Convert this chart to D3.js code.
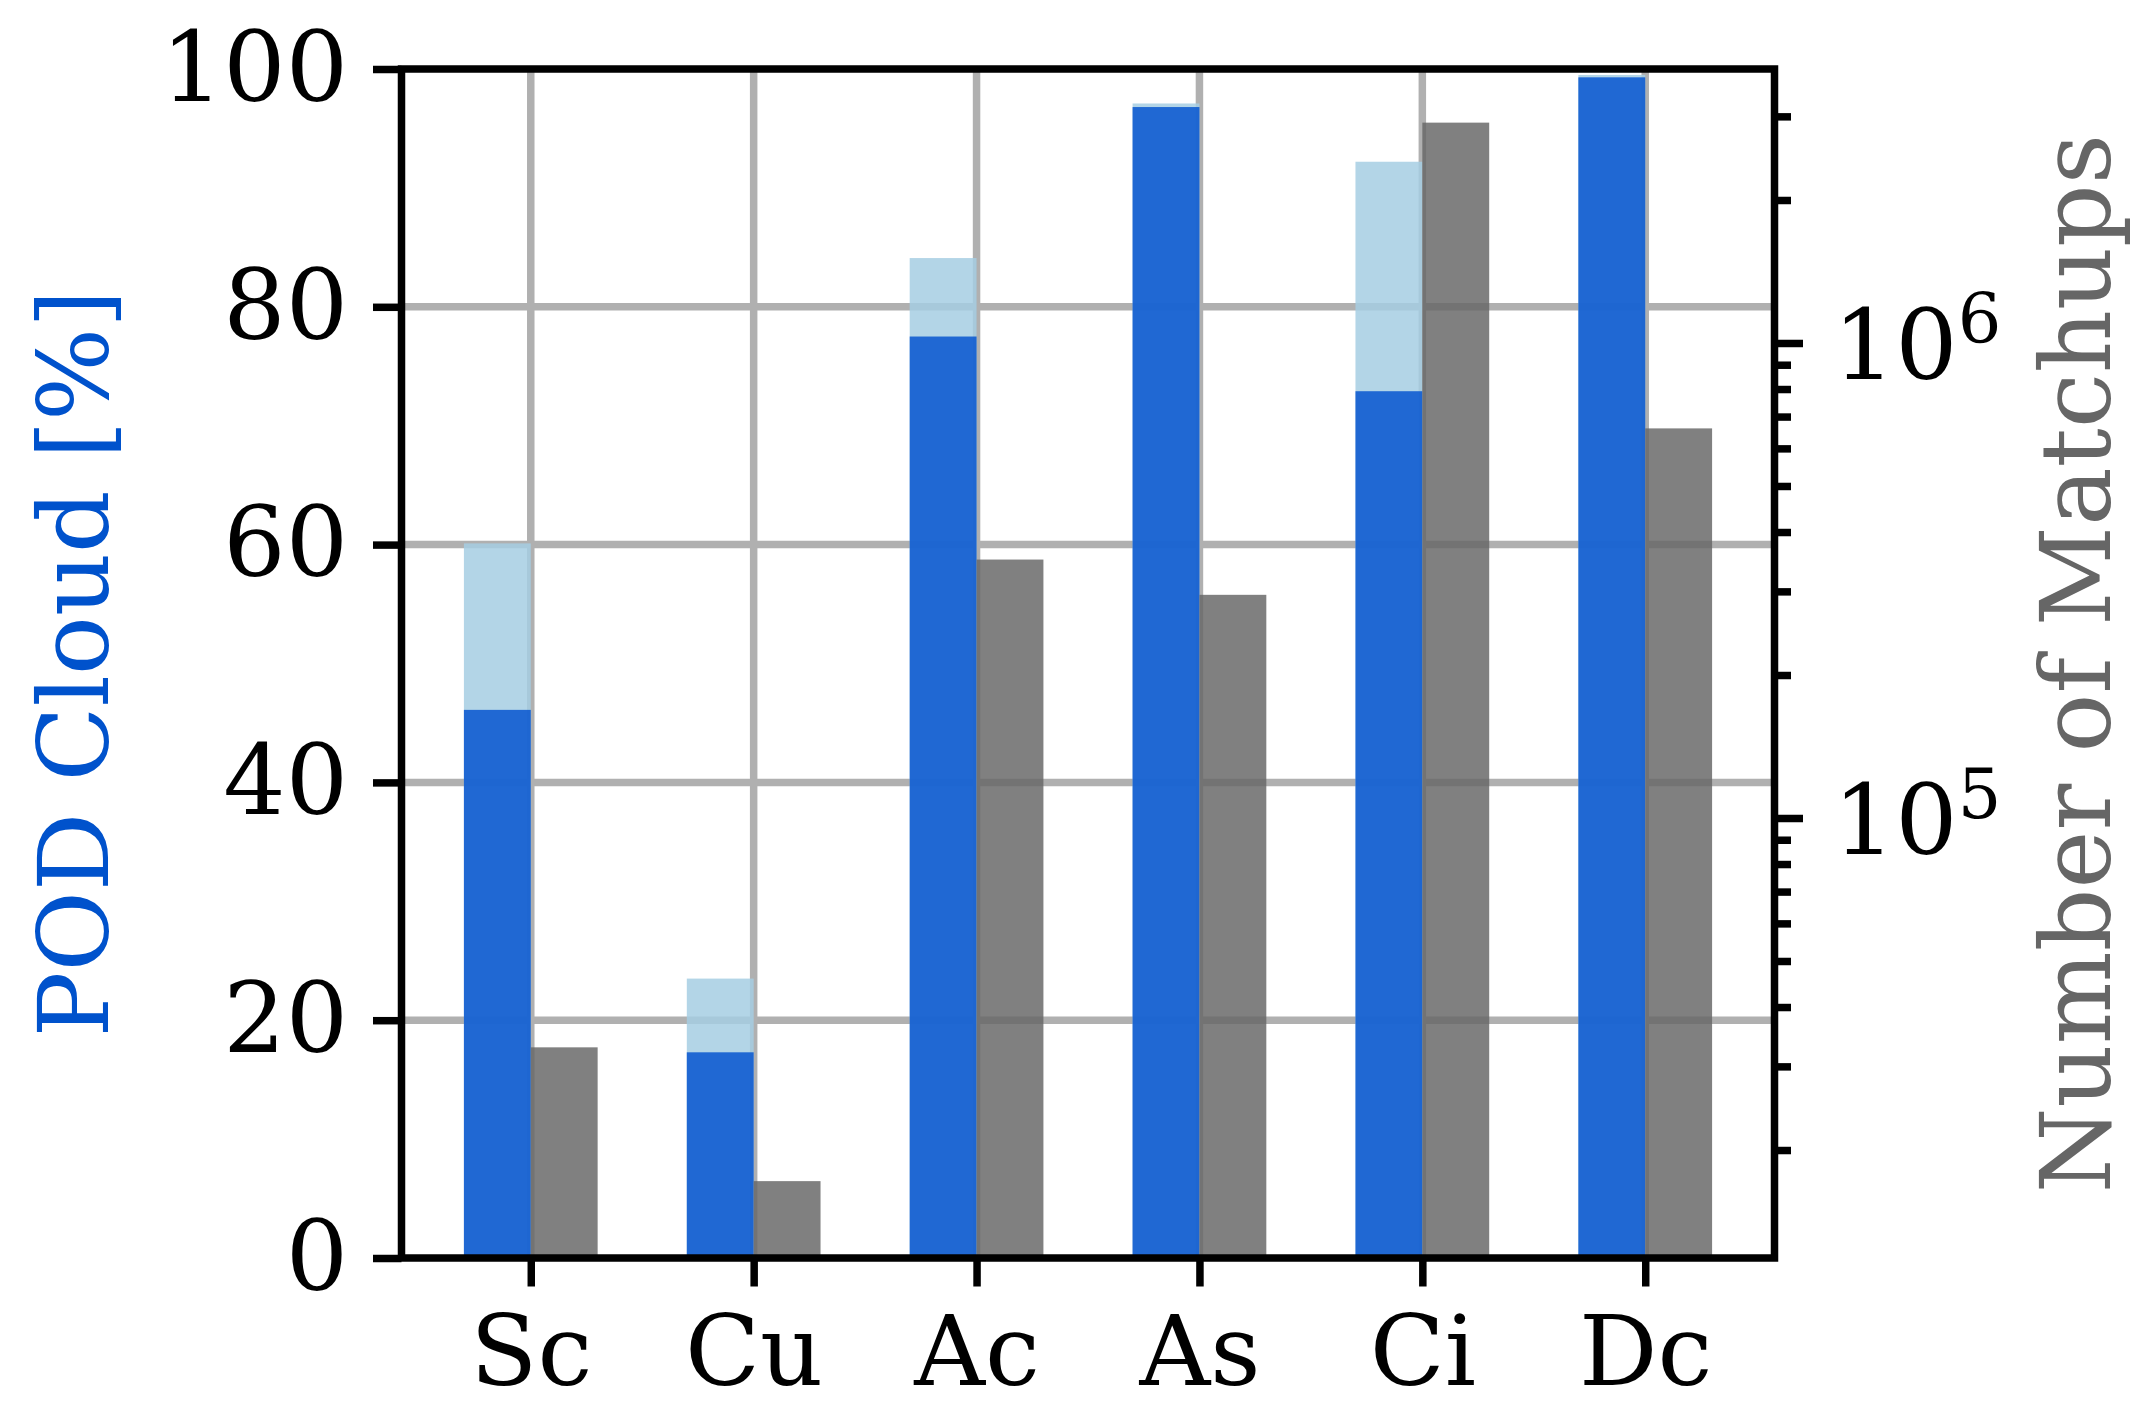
<!DOCTYPE html>
<html>
<head>
<meta charset="utf-8">
<script src="https://cdn.jsdelivr.net/npm/d3@7"></script>
<style>
  html, body { margin: 0; padding: 0; background: #fff; }
  svg { display: block; }
  text { font-family: "DejaVu Serif", serif; }
</style>
</head>
<body>
<svg id="chart" width="2139" height="1408"></svg>
<script>
// ---- data ----
const categories = ["Sc", "Cu", "Ac", "As", "Ci", "Dc"];
const podTotal   = [60.1, 23.5, 84.1, 97.1, 92.2, 99.5];   // light blue
const podMain    = [46.1, 17.3, 77.5, 96.8, 72.9, 99.3];   // dark blue
const matchups   = [32900, 17200, 350000, 295000, 2910000, 661000]; // gray, log axis
const leftTicks  = [0, 20, 40, 60, 80, 100];
const rightMajorTicks = [1e5, 1e6];
const rightMinorTicks = [2e4, 3e4, 4e4, 5e4, 6e4, 7e4, 8e4, 9e4,
                         2e5, 3e5, 4e5, 5e5, 6e5, 7e5, 8e5, 9e5,
                         2e6, 3e6];
const rightTickExp = {100000: "5", 1000000: "6"};

// ---- layout ----
const L = 401.5, R = 1774.5, T = 69, B = 1258;
const FS = 98;
const LW = 7.5;
const barFrac = 0.3;

const svg = d3.select("#chart");

const x = d3.scalePoint().domain(categories).range([L, R]).padding(0.58);
const step = x.step();
const bw = step * barFrac;
const yL = d3.scaleLinear().domain([0, 100]).range([B, T]);
const yR = d3.scaleLog().domain([Math.pow(10, 4.0737), Math.pow(10, 6.5768)]).range([B, T]);

// ---- grid ----
const grid = svg.append("g").attr("stroke", "#b0b0b0").attr("stroke-width", LW);
grid.selectAll(".gx").data(categories).join("line")
  .attr("x1", d => x(d)).attr("x2", d => x(d)).attr("y1", T).attr("y2", B);
grid.selectAll(".gy").data(leftTicks.filter(v => v > 0 && v < 100)).join("line")
  .attr("x1", L).attr("x2", R).attr("y1", d => yL(d)).attr("y2", d => yL(d));

// ---- blue bars ----
const data = categories.map((c, i) => ({c, total: podTotal[i], main: podMain[i], n: matchups[i]}));
svg.append("g").selectAll("rect").data(data).join("rect")
  .attr("x", d => x(d.c) - bw).attr("width", bw)
  .attr("y", d => yL(d.total)).attr("height", d => yL(0) - yL(d.total))
  .attr("fill", "#a6cee3").attr("fill-opacity", 0.85);
svg.append("g").selectAll("rect").data(data).join("rect")
  .attr("x", d => x(d.c) - bw).attr("width", bw)
  .attr("y", d => yL(d.main)).attr("height", d => yL(0) - yL(d.main))
  .attr("fill", "#0354cf").attr("fill-opacity", 0.84);

// ---- gray bars ----
svg.append("g").selectAll("rect").data(data).join("rect")
  .attr("x", d => x(d.c)).attr("width", bw)
  .attr("y", d => yR(d.n)).attr("height", d => B - yR(d.n))
  .attr("fill", "#666666").attr("fill-opacity", 0.83);

// ---- axes ----
function styleAxis(g) {
  g.select(".domain").remove();
  g.selectAll(".tick line").attr("stroke", "#000").attr("stroke-width", LW);
  g.selectAll(".tick text").attr("fill", "#000").style("font-size", FS + "px")
    .style("font-family", "DejaVu Serif");
}

const axL = svg.append("g").attr("transform", `translate(${L},0)`)
  .call(d3.axisLeft(yL).tickValues(leftTicks).tickSizeInner(28.5).tickSizeOuter(0).tickPadding(25));
styleAxis(axL);

const axB = svg.append("g").attr("transform", `translate(0,${B})`)
  .call(d3.axisBottom(x).tickSizeInner(28.5).tickSizeOuter(0).tickPadding(29));
styleAxis(axB);

const axRmin = svg.append("g").attr("transform", `translate(${R},0)`)
  .call(d3.axisRight(yR).tickValues(rightMinorTicks).tickFormat("").tickSizeInner(16.5).tickSizeOuter(0));
styleAxis(axRmin);

const axR = svg.append("g").attr("transform", `translate(${R},0)`)
  .call(d3.axisRight(yR).tickValues(rightMajorTicks).tickSizeInner(28.5).tickSizeOuter(0).tickPadding(30));
styleAxis(axR);
axR.selectAll(".tick text").each(function(d) {
  const t = d3.select(this);
  t.text(null).attr("dy", "0.36em");
  t.append("tspan").text("10");
  t.append("tspan").text(rightTickExp[d]).style("font-size", (FS * 0.7) + "px").attr("dy", "-0.52em");
});

// ---- spines ----
svg.append("rect").attr("x", L).attr("y", T).attr("width", R - L).attr("height", B - T)
  .attr("fill", "none").attr("stroke", "#000").attr("stroke-width", LW);

// ---- axis labels ----
svg.append("text").attr("transform", `translate(108,${(T + B) / 2}) rotate(-90)`)
  .attr("text-anchor", "middle").attr("fill", "#0052cc").style("font-size", FS + "px")
  .text("POD Cloud [%]");
svg.append("text").attr("transform", `translate(2110,${(T + B) / 2}) rotate(-90)`)
  .attr("text-anchor", "middle").attr("fill", "#666666").style("font-size", FS + "px")
  .text("Number of Matchups");
</script>
</body>
</html>
